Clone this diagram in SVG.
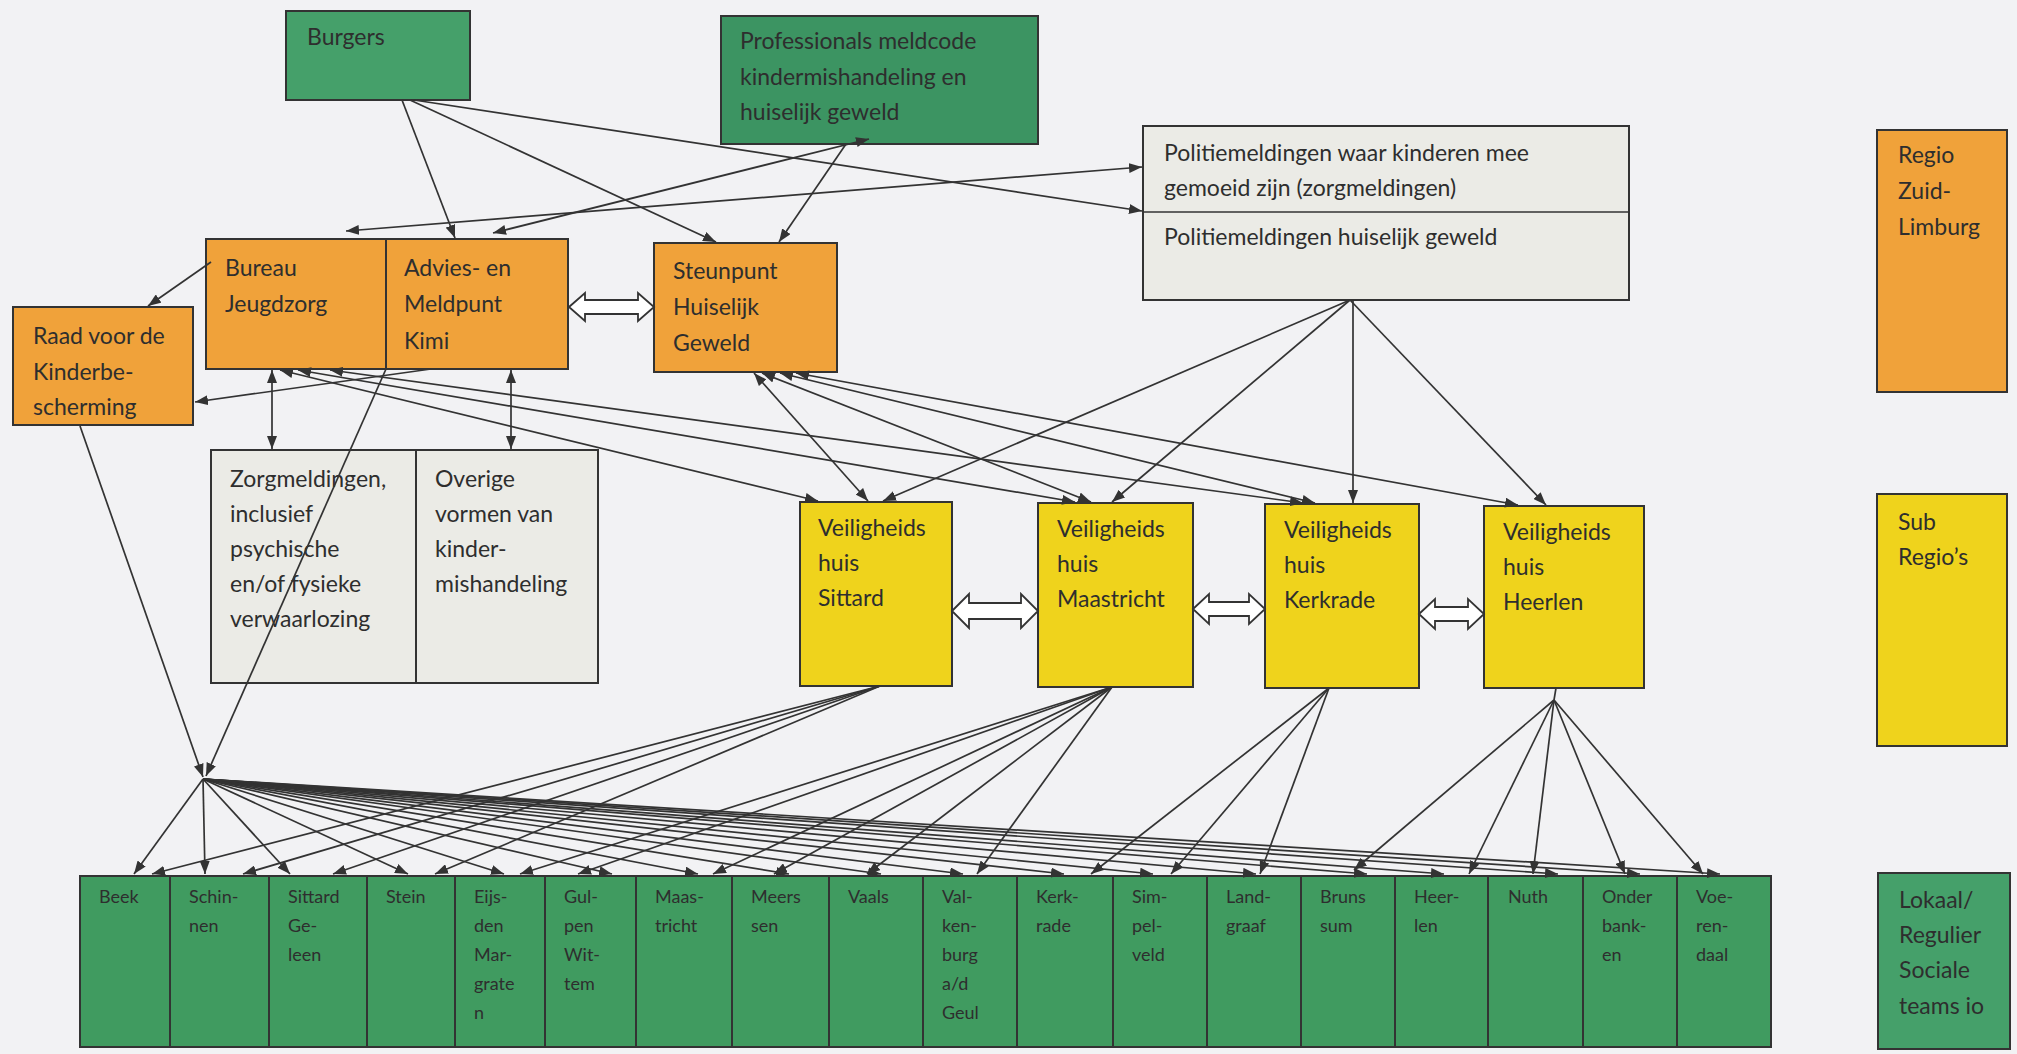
<svg xmlns="http://www.w3.org/2000/svg" width="2017" height="1054" viewBox="0 0 2017 1054">
<defs>
<style>
.bx{stroke:#333;stroke-width:2}
.gr{fill:#45a06a}
.gd{fill:#3c9462}
.gc{fill:#409b60}
.or{fill:#f0a23a}
.ye{fill:#efd31c}
.gy{fill:#ebebe6}
.t{font-family:Lato,"Liberation Sans",sans-serif;font-size:23px;fill:#2e2e2e}
.s{font-family:Lato,"Liberation Sans",sans-serif;font-size:18px;fill:#2e2e2e}
.c{stroke:#333;stroke-width:1.7;fill:none;marker-end:url(#ah)}
.d{stroke:#333;stroke-width:1.7;fill:none;marker-end:url(#ah);marker-start:url(#ah)}
.p{stroke:#333;stroke-width:1.7;fill:none}
.da{fill:#fff;stroke:#333;stroke-width:1.8}
</style>
<marker id="ah" viewBox="0 0 13 10" refX="13" refY="5" markerWidth="13" markerHeight="10" markerUnits="userSpaceOnUse" orient="auto-start-reverse">
<path d="M0,0 L13,5 L0,10 z" fill="#333"/>
</marker>
</defs>
<rect width="2017" height="1054" fill="#f2f2f4"/>

<g id="burgers"><rect class="bx gr" x="286" y="11" width="184" height="89"/><text class="t" x="307" y="45">Burgers</text></g>
<g id="professionals"><rect class="bx gd" x="721" y="16" width="317" height="128"/>
<text class="t" x="740" y="49">Professionals meldcode</text>
<text class="t" x="740" y="85">kindermishandeling en</text>
<text class="t" x="740" y="120">huiselijk geweld</text></g>
<g id="politie"><rect class="bx gy" x="1143" y="126" width="486" height="174"/><line class="p" x1="1143" y1="212" x2="1629" y2="212" stroke-width="2"/>
<text class="t" x="1164" y="161">Politiemeldingen waar kinderen mee</text>
<text class="t" x="1164" y="196">gemoeid zijn (zorgmeldingen)</text>
<text class="t" x="1164" y="245">Politiemeldingen huiselijk geweld</text></g>
<g id="regio"><rect class="bx or" x="1877" y="130" width="130" height="262"/>
<text class="t" x="1898" y="163">Regio</text><text class="t" x="1898" y="199">Zuid-</text><text class="t" x="1898" y="235">Limburg</text></g>
<g id="bureau-jeugdzorg"><rect class="bx or" x="206" y="239" width="180" height="130"/>
<text class="t" x="225" y="276">Bureau</text><text class="t" x="225" y="312">Jeugdzorg</text></g>
<g id="amk"><rect class="bx or" x="386" y="239" width="182" height="130"/>
<text class="t" x="404" y="276">Advies- en</text><text class="t" x="404" y="312">Meldpunt</text><text class="t" x="404" y="349">Kimi</text></g>
<g id="steunpunt"><rect class="bx or" x="654" y="243" width="183" height="129"/>
<text class="t" x="673" y="279">Steunpunt</text><text class="t" x="673" y="315">Huiselijk</text><text class="t" x="673" y="351">Geweld</text></g>
<g id="raad"><rect class="bx or" x="13" y="307" width="180" height="118"/>
<text class="t" x="33" y="344">Raad voor de</text><text class="t" x="33" y="380">Kinderbe-</text><text class="t" x="33" y="415">scherming</text></g>
<g id="zorgmeldingen"><rect class="bx gy" x="211" y="450" width="205" height="233"/>
<text class="t" x="230" y="487">Zorgmeldingen,</text><text class="t" x="230" y="522">inclusief</text><text class="t" x="230" y="557">psychische</text><text class="t" x="230" y="592">en/of fysieke</text><text class="t" x="230" y="627">verwaarlozing</text></g>
<g id="overige"><rect class="bx gy" x="416" y="450" width="182" height="233"/>
<text class="t" x="435" y="487">Overige</text><text class="t" x="435" y="522">vormen van</text><text class="t" x="435" y="557">kinder-</text><text class="t" x="435" y="592">mishandeling</text></g>
<g id="vh-sittard"><rect class="bx ye" x="800" y="502" width="152" height="184"/>
<text class="t" x="818" y="536">Veiligheids</text><text class="t" x="818" y="571">huis</text><text class="t" x="818" y="606">Sittard</text></g>
<g id="vh-maastricht"><rect class="bx ye" x="1038" y="503" width="155" height="184"/>
<text class="t" x="1057" y="537">Veiligheids</text><text class="t" x="1057" y="572">huis</text><text class="t" x="1057" y="607">Maastricht</text></g>
<g id="vh-kerkrade"><rect class="bx ye" x="1265" y="504" width="154" height="184"/>
<text class="t" x="1284" y="538">Veiligheids</text><text class="t" x="1284" y="573">huis</text><text class="t" x="1284" y="608">Kerkrade</text></g>
<g id="vh-heerlen"><rect class="bx ye" x="1484" y="506" width="160" height="182"/>
<text class="t" x="1503" y="540">Veiligheids</text><text class="t" x="1503" y="575">huis</text><text class="t" x="1503" y="610">Heerlen</text></g>
<g id="subregio"><rect class="bx ye" x="1877" y="494" width="130" height="252"/>
<text class="t" x="1898" y="530">Sub</text><text class="t" x="1898" y="565">Regio’s</text></g>
<g id="lokaal"><rect class="bx gr" x="1878" y="873" width="132" height="176"/>
<text class="t" x="1899" y="908">Lokaal/</text><text class="t" x="1899" y="943">Regulier</text><text class="t" x="1899" y="978">Sociale</text><text class="t" x="1899" y="1014">teams io</text></g>

<g id="gem-beek"><rect class="bx gc" x="80" y="876" width="90" height="171"/><text class="s" x="99" y="903">Beek</text></g>
<g id="gem-schinnen"><rect class="bx gc" x="170" y="876" width="99" height="171"/><text class="s" x="189" y="903">Schin-</text><text class="s" x="189" y="932">nen</text></g>
<g id="gem-sittard-geleen"><rect class="bx gc" x="269" y="876" width="98" height="171"/><text class="s" x="288" y="903">Sittard</text><text class="s" x="288" y="932">Ge-</text><text class="s" x="288" y="961">leen</text></g>
<g id="gem-stein"><rect class="bx gc" x="367" y="876" width="88" height="171"/><text class="s" x="386" y="903">Stein</text></g>
<g id="gem-eijsden"><rect class="bx gc" x="455" y="876" width="90" height="171"/><text class="s" x="474" y="903">Eijs-</text><text class="s" x="474" y="932">den</text><text class="s" x="474" y="961">Mar-</text><text class="s" x="474" y="990">grate</text><text class="s" x="474" y="1019">n</text></g>
<g id="gem-gulpen"><rect class="bx gc" x="545" y="876" width="91" height="171"/><text class="s" x="564" y="903">Gul-</text><text class="s" x="564" y="932">pen</text><text class="s" x="564" y="961">Wit-</text><text class="s" x="564" y="990">tem</text></g>
<g id="gem-maastricht"><rect class="bx gc" x="636" y="876" width="96" height="171"/><text class="s" x="655" y="903">Maas-</text><text class="s" x="655" y="932">tricht</text></g>
<g id="gem-meerssen"><rect class="bx gc" x="732" y="876" width="97" height="171"/><text class="s" x="751" y="903">Meers</text><text class="s" x="751" y="932">sen</text></g>
<g id="gem-vaals"><rect class="bx gc" x="829" y="876" width="94" height="171"/><text class="s" x="848" y="903">Vaals</text></g>
<g id="gem-valkenburg"><rect class="bx gc" x="923" y="876" width="94" height="171"/><text class="s" x="942" y="903">Val-</text><text class="s" x="942" y="932">ken-</text><text class="s" x="942" y="961">burg</text><text class="s" x="942" y="990">a/d</text><text class="s" x="942" y="1019">Geul</text></g>
<g id="gem-kerkrade"><rect class="bx gc" x="1017" y="876" width="96" height="171"/><text class="s" x="1036" y="903">Kerk-</text><text class="s" x="1036" y="932">rade</text></g>
<g id="gem-simpelveld"><rect class="bx gc" x="1113" y="876" width="94" height="171"/><text class="s" x="1132" y="903">Sim-</text><text class="s" x="1132" y="932">pel-</text><text class="s" x="1132" y="961">veld</text></g>
<g id="gem-landgraaf"><rect class="bx gc" x="1207" y="876" width="94" height="171"/><text class="s" x="1226" y="903">Land-</text><text class="s" x="1226" y="932">graaf</text></g>
<g id="gem-brunssum"><rect class="bx gc" x="1301" y="876" width="94" height="171"/><text class="s" x="1320" y="903">Bruns</text><text class="s" x="1320" y="932">sum</text></g>
<g id="gem-heerlen"><rect class="bx gc" x="1395" y="876" width="93" height="171"/><text class="s" x="1414" y="903">Heer-</text><text class="s" x="1414" y="932">len</text></g>
<g id="gem-nuth"><rect class="bx gc" x="1488" y="876" width="95" height="171"/><text class="s" x="1508" y="903">Nuth</text></g>
<g id="gem-onderbanken"><rect class="bx gc" x="1583" y="876" width="94" height="171"/><text class="s" x="1602" y="903">Onder</text><text class="s" x="1602" y="932">bank-</text><text class="s" x="1602" y="961">en</text></g>
<g id="gem-voerendaal"><rect class="bx gc" x="1677" y="876" width="94" height="171"/><text class="s" x="1696" y="903">Voe-</text><text class="s" x="1696" y="932">ren-</text><text class="s" x="1696" y="961">daal</text></g>

<g id="connectors">
<path class="c" d="M402,100 L455,238"/>
<path class="c" d="M410,100 L716,242"/>
<path class="c" d="M414,100 L1142,211"/>
<path class="d" d="M493,233 L869,139"/>
<path class="d" d="M346,231 L1142,167"/>
<path class="c" d="M846,144 L779,242"/>
<path class="c" d="M211,262 L148,306"/>
<path class="c" d="M431,369 L195,402"/>
<path class="d" d="M272,370 L272,449"/>
<path class="d" d="M511,370 L511,449"/>
<path class="c" d="M80,426 L203,777"/>
<path class="c" d="M386,369 L206,776"/>
<path class="d" d="M280,370 L818,501"/>
<path class="d" d="M298,370 L1075,502"/>
<path class="d" d="M330,370 L1303,503"/>
<path class="d" d="M754,373 L868,501"/>
<path class="d" d="M762,373 L1091,502"/>
<path class="d" d="M780,373 L1315,503"/>
<path class="d" d="M796,373 L1518,505"/>
<path class="c" d="M1350,300 L883,501"/>
<path class="c" d="M1350,300 L1112,502"/>
<path class="c" d="M1353,300 L1353,503"/>
<path class="c" d="M1350,300 L1546,505"/>
<path class="da" d="M569,307 L585,293 L585,300 L638,300 L638,293 L654,307 L638,321 L638,314 L585,314 L585,321 Z"/>
<path class="da" d="M952,611 L969,594 L969,603 L1021,603 L1021,594 L1038,611 L1021,628 L1021,619 L969,619 L969,628 Z"/>
<path class="da" d="M1193,609 L1209,594 L1209,602 L1249,602 L1249,594 L1265,609 L1249,624 L1249,616 L1209,616 L1209,624 Z"/>
<path class="da" d="M1419,614 L1435,599 L1435,607 L1468,607 L1468,599 L1484,614 L1468,629 L1468,621 L1435,621 L1435,629 Z"/>
<path class="c" d="M203,779 L134,874"/>
<path class="c" d="M203,779 L205,874"/>
<path class="c" d="M203,779 L290,874"/>
<path class="c" d="M203,779 L408,874"/>
<path class="c" d="M203,779 L504,874"/>
<path class="c" d="M203,779 L612,874"/>
<path class="c" d="M203,779 L698,874"/>
<path class="c" d="M203,779 L789,874"/>
<path class="c" d="M203,779 L881,874"/>
<path class="c" d="M203,779 L963,874"/>
<path class="c" d="M203,779 L1064,874"/>
<path class="c" d="M203,779 L1153,874"/>
<path class="c" d="M203,779 L1256,874"/>
<path class="c" d="M203,779 L1367,874"/>
<path class="c" d="M203,779 L1444,874"/>
<path class="c" d="M203,779 L1558,874"/>
<path class="c" d="M203,779 L1640,874"/>
<path class="c" d="M203,779 L1720,874"/>
<path class="c" d="M880,686 L152,874"/>
<path class="c" d="M880,686 L243,874"/>
<path class="c" d="M880,686 L333,874"/>
<path class="c" d="M880,686 L435,874"/>
<path class="c" d="M1112,687 L520,874"/>
<path class="c" d="M1112,687 L578,874"/>
<path class="c" d="M1112,687 L713,874"/>
<path class="c" d="M1112,687 L774,874"/>
<path class="c" d="M1112,687 L867,874"/>
<path class="c" d="M1112,687 L977,874"/>
<path class="c" d="M1329,688 L1091,874"/>
<path class="c" d="M1329,688 L1171,874"/>
<path class="c" d="M1329,688 L1260,874"/>
<path class="p" d="M1556,688 L1554,700"/>
<path class="c" d="M1554,700 L1354,870"/>
<path class="c" d="M1554,700 L1469,874"/>
<path class="c" d="M1554,700 L1533,874"/>
<path class="c" d="M1554,700 L1625,874"/>
<path class="c" d="M1554,700 L1703,874"/>
</g>
</svg>
